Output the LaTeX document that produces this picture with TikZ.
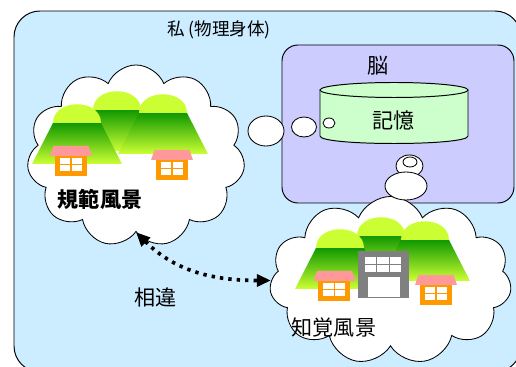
\documentclass[tikz,border=0pt]{standalone}
\usepackage{fontspec}
\setmainfont{Noto Sans CJK JP}
\usetikzlibrary{arrows.meta}
\usetikzlibrary{shapes.symbols}

\definecolor{fond}{HTML}{CCECFF}
\definecolor{violet}{HTML}{CCCCFF}
\definecolor{memoire}{HTML}{CCFFCC}
\definecolor{vertclair}{HTML}{CCFF33}
\definecolor{vertfonce}{HTML}{119900}
\definecolor{toit}{HTML}{FF9999}
\definecolor{mur}{HTML}{FF9900}
\definecolor{gris}{HTML}{808080}

\begin{document}
\begin{tikzpicture}[x=0.025cm,y=-0.025cm]
%styles
\tikzstyle{titre}=[font=\fontsize{12.5}{15}\selectfont]
\tikzstyle{etiquette}=[font=\fontsize{15}{18}\selectfont]
\tikzstyle{nuage}=[cloud,cloud puffs=11,cloud puff arc=135,draw,fill=white,inner sep=0pt,line width=0.6pt]
\tikzstyle{bulle}=[draw,fill=white,line width=0.6pt]
\tikzstyle{cadre}=[draw,line width=0.7pt]
\tikzstyle{ecart}=[{Triangle[length=10pt,width=8.5pt]}-{Triangle[length=10pt,width=8.5pt]},line width=2.6pt,dash pattern=on 2.4pt off 3.6pt]
\useasboundingbox (0,0) rectangle (516,367);
%corps et cerveau
\draw[cadre,fill=fond,rounded corners=0.65cm] (14,11) rectangle (521,372);
\node[titre] (watashi) at (219,30) {私 (物理身体)};
\draw[cadre,fill=violet,rounded corners=0.4cm] (282,45) rectangle (514,203);
\node[etiquette] (nou) at (378,66) {脳};
%memoire
\draw[cadre,fill=memoire] (320,90) -- (320,136) .. controls (320,146) and (468,146) .. (468,136) -- (468,90) -- cycle;
\draw[cadre,fill=memoire] (394,90) ellipse [x radius=74,y radius=7.5];
\node[etiquette] (kioku) at (394,120) {記憶};
%nuages
\node[nuage,minimum width=5.45cm,minimum height=4.55cm] (kihan) at (136,156) {};
\node[nuage,minimum width=6.05cm,minimum height=4.2cm] (chikaku) at (390.5,280.5) {};
%bulles
\draw[bulle] (266,131) ellipse [x radius=18,y radius=15];
\draw[bulle] (304,127) ellipse [x radius=12.5,y radius=10];
\draw[bulle] (329,123) ellipse [x radius=6,y radius=5];
\draw[bulle] (409.5,166) ellipse [x radius=13.5,y radius=11];
\draw[bulle] (410,162) ellipse [x radius=7,y radius=5];
\draw[bulle] (406,186) ellipse [x radius=21,y radius=14];
%montagnes
\foreach \cx/\ty in {117/110,77/123,163/113,381/236,340/248,425/240}{
  \shade[top color=vertfonce,bottom color=vertclair] (\cx-24,\ty) -- (\cx+24,\ty) -- (\cx+45,\ty+41) -- (\cx-45,\ty+41) -- cycle;
  \fill[vertclair] (\cx-24,\ty) .. controls (\cx-24,\ty-25) and (\cx+24,\ty-25) .. (\cx+24,\ty) -- cycle;
}
%maisons
\foreach \cx/\ty in {71/146,172/150,334.5/271,436/275}{
  \fill[toit] (\cx-17.5,\ty) -- (\cx+17.5,\ty) -- (\cx+21,\ty+10) -- (\cx-21,\ty+10) -- cycle;
  \fill[mur] (\cx-16,\ty+10) rectangle (\cx+16,\ty+30);
  \fill[white] (\cx-11,\ty+12) rectangle (\cx+11,\ty+25);
  \draw[mur,line width=1.4pt] (\cx,\ty+12) -- (\cx,\ty+25) (\cx-11,\ty+18.5) -- (\cx+11,\ty+18.5);
}
%immeuble
\fill[gris] (358,251) rectangle (409,298);
\foreach \i in {0,1,2}
  \foreach \j in {0,1}
    \fill[white] (365+\i*12.4,257+\j*8) rectangle ++(11.4,7);
\fill[white] (368,277) rectangle (400,297);
%textes
\node[etiquette,font=\fontsize{15}{18}\selectfont\bfseries] (kihantxt) at (100,199) {規範風景};
\node[etiquette] (chikakutxt) at (334,327) {知覚風景};
%fleche
\draw[ecart] (kihan.south) to[out=-45,in=180] (chikaku.west);
\node[etiquette] (soui) at (156,297) {相違};
\end{tikzpicture}
\end{document}
